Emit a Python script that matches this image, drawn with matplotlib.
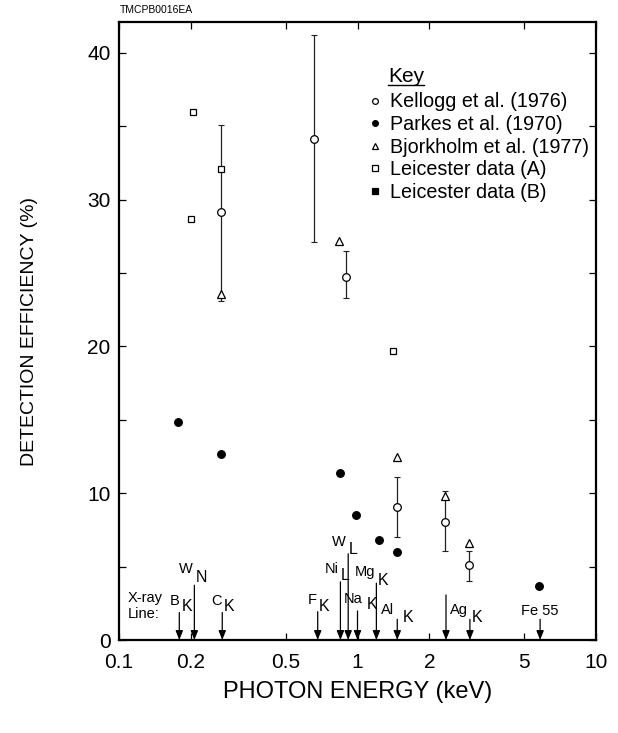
#!/usr/bin/env python3

import matplotlib
matplotlib.use("Agg")
import matplotlib.pyplot as plt
from matplotlib.lines import Line2D
from matplotlib.ticker import FixedLocator, NullFormatter

plt.rcParams['font.family'] = ['Liberation Sans', 'DejaVu Sans']

# Kellogg et al. (1976): open circles with error bars
kellogg_e = [0.267, 0.655, 0.899, 1.459, 2.32, 2.94]
kellogg_v = [29.15, 34.1, 24.7, 9.07, 8.03, 5.12]
kellogg_lo = [23.1, 27.1, 23.3, 7.03, 6.03, 4.02]
kellogg_hi = [35.1, 41.2, 26.5, 11.07, 10.16, 6.07]

# Parkes et al. (1970): filled circles
parkes_e = [0.177, 0.269, 0.843, 0.99, 1.229, 1.46, 5.76]
parkes_v = [14.85, 12.64, 11.37, 8.53, 6.82, 6.0, 3.68]

# Bjorkholm et al. (1977): open triangles
bjork_e = [0.267, 0.834, 1.459, 2.32, 2.94]
bjork_v = [23.6, 27.2, 12.44, 9.82, 6.64]

# Leicester data (A): open squares
leic_a_e = [0.204, 0.201, 0.267, 1.408]
leic_a_v = [36.0, 28.65, 32.06, 19.67]

# Leicester data (B): filled squares (none plotted)
leic_b_e = []
leic_b_v = []

# X-ray lines marked along the bottom
line_names = ['B', 'W', 'C', 'F', 'Ni', 'W', 'Na', 'Mg', 'Al', '', 'Ag', 'Fe 55']
line_subs = ['K', 'N', 'K', 'K', 'L', 'L', 'K', 'K', 'K', '', 'K', '']
line_e = [0.179, 0.207, 0.271, 0.681, 0.848, 0.914, 1.0, 1.20, 1.468, 2.35, 2.96, 5.83]
line_top = [1.87, 3.73, 1.87, 1.93, 3.96, 5.87, 1.98, 3.87, 1.41, 3.07, 1.41, 1.41]

# label offsets in pixels: (main right edge dx, main dy, sub left edge dx, sub dy)
label_off = [(0, 12, 2, 6), (-2, 16, 1, 8), (-1, 12, 1, 6), (-1, 12, 1, 5),
             (-2, 13, 0, 6), (-2, 12, 1, 4), (5, 12, 9, 6), (-1, 11, 1, 3),
             (-3, 9, 5, 2), (0, 0, 0, 0), (-2, 9, 2, 2), (0, 8, 0, 0)]

fig = plt.figure(figsize=(6.18, 7.33), dpi=100)
ax = fig.add_axes([119 / 618, 93 / 733, 477 / 618, 618 / 733])
ax.set_xscale('log')
ax.set_xlim(0.1, 10)
ax.set_ylim(0, 42.1)

kerr = [[v - l for v, l in zip(kellogg_v, kellogg_lo)],
        [h - v for v, h in zip(kellogg_v, kellogg_hi)]]
ax.errorbar(kellogg_e, kellogg_v, yerr=kerr, fmt='none', ecolor='#222222',
            elinewidth=0.9, capsize=2.2, capthick=0.8, zorder=2)

mk = dict(linestyle='none', markeredgecolor='black', markeredgewidth=0.9, zorder=3)
h_kel, = ax.plot(kellogg_e, kellogg_v, marker='o', markersize=5.5,
                 markerfacecolor='white', **mk)
h_par, = ax.plot(parkes_e, parkes_v, marker='o', markersize=5.5,
                 markerfacecolor='black', **mk)
h_bjo, = ax.plot(bjork_e, bjork_v, marker='^', markersize=5.5,
                 markerfacecolor='white', **mk)
h_la, = ax.plot(leic_a_e, leic_a_v, marker='s', markersize=5,
                markerfacecolor='white', **mk)
h_lb, = ax.plot(leic_b_e, leic_b_v, marker='s', markersize=5,
                markerfacecolor='black', **mk)

# x-ray line arrows
for name, sub, e, top, off in zip(line_names, line_subs, line_e, line_top, label_off):
    ax.annotate('', xy=(e, 0), xytext=(e, top),
                arrowprops=dict(arrowstyle='-|>,head_length=0.55,head_width=0.22',
                                color='black', lw=0.9, shrinkA=0, shrinkB=0))
    if not name:
        continue
    if sub:
        ax.annotate(name, xy=(e, top), xytext=(off[0], off[1]),
                    textcoords='offset pixels', ha='right', va='center', fontsize=10.5)
        ax.annotate(sub, xy=(e, top), xytext=(off[2], off[3]),
                    textcoords='offset pixels', ha='left', va='center', fontsize=11.5)
    else:
        ax.annotate(name, xy=(e, top), xytext=(off[0], off[1]),
                    textcoords='offset pixels', ha='center', va='center', fontsize=10.5)

ax.text(0.109, 2.3, 'X-ray\nLine:', fontsize=10.5, ha='left', va='center',
        linespacing=1.2)

# axes styling
for s in ax.spines.values():
    s.set_linewidth(1.6)
ax.xaxis.set_major_locator(FixedLocator([0.1, 0.2, 0.5, 1, 2, 5, 10]))
ax.xaxis.set_minor_locator(FixedLocator([]))
ax.set_xticklabels(['0.1', '0.2', '0.5', '1', '2', '5', '10'])
ax.yaxis.set_major_locator(FixedLocator([0, 10, 20, 30, 40]))
ax.yaxis.set_minor_locator(FixedLocator([5, 15, 25, 35]))
ax.yaxis.set_minor_formatter(NullFormatter())
ax.tick_params(which='both', direction='in', top=True, right=True,
               length=5, width=0.9, labelsize=15)
ax.tick_params(axis='x', pad=9)
ax.tick_params(axis='y', pad=6)

ax.set_xlabel('PHOTON ENERGY (keV)', fontsize=17, va='center')
ax.set_ylabel('DETECTION EFFICIENCY (%)', fontsize=14, va='center')
ax.xaxis.set_label_coords(0.5, -(692 - 640) / 618)
ax.yaxis.set_label_coords(-(119 - 30) / 477, 0.5)

fig.text(120 / 618, 1 - 10 / 733, 'TMCPB0016EA', fontsize=7.5, ha='left', va='center')

# key
leg = ax.legend([h_kel, h_par, h_bjo, h_la, h_lb],
                ['Kellogg et al. (1976)', 'Parkes et al. (1970)',
                 'Bjorkholm et al. (1977)', 'Leicester data (A)', 'Leicester data (B)'],
                loc='upper left', bbox_to_anchor=(0.523, 0.886), frameon=False,
                fontsize=14.2, handlelength=0.7, handletextpad=0.4,
                labelspacing=0.18, borderpad=0, borderaxespad=0, markerscale=0.75)
key = ax.text(0.564, (640 - 76) / 618, 'Key', transform=ax.transAxes, fontsize=15,
              ha='left', va='center')

fig.canvas.draw()
bb = key.get_window_extent().transformed(fig.transFigure.inverted())
fig.add_artist(Line2D([bb.x0, bb.x1], [bb.y0 + 0.001, bb.y0 + 0.001],
                      transform=fig.transFigure, color='black', lw=1.0))

fig.savefig('out.png', dpi=100)
